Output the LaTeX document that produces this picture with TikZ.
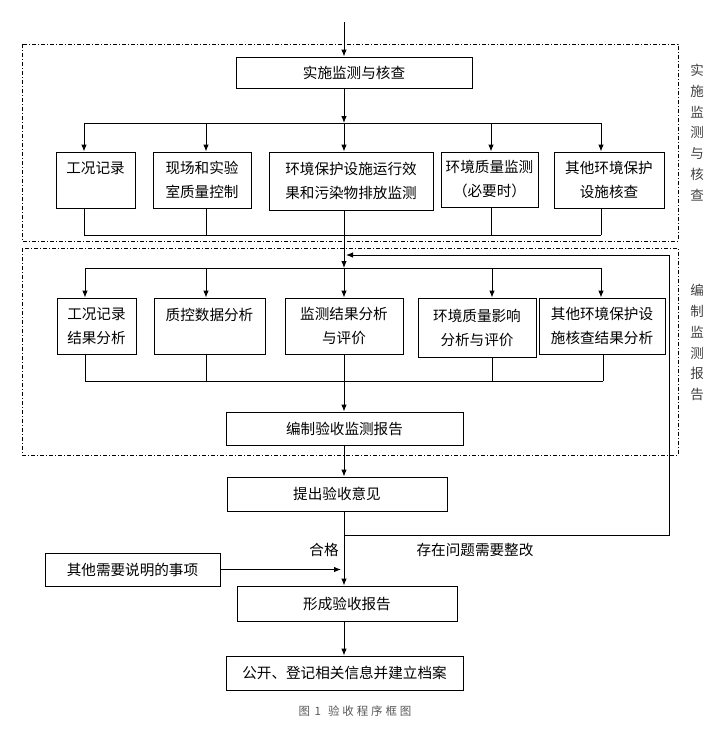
\documentclass[tikz,border=0pt]{standalone}
\usepackage{fontspec}
\newfontfamily\cjk{Noto Sans CJK SC}
\usetikzlibrary{positioning, arrows.meta}
\tikzset{
  box/.style={draw, line width=0.9pt, inner sep=0pt, align=center, font=\cjk\fontsize{14.6}{24}\selectfont},
  frame/.style={line width=0.7pt, dash pattern=on 4pt off 2pt on 1pt off 2pt},
  side/.style={font=\cjk\fontsize{13.5}{20.8}\selectfont, align=center, text=black!75},
  lbl/.style={font=\cjk\fontsize{14.6}{14}\selectfont},
  link/.style={line width=0.9pt},
}

\begin{document}
\begin{tikzpicture}[>={Latex[length=7pt,width=5.5pt]}, x=1pt, y=-1pt]
  \useasboundingbox (0,0) rectangle (720,732);
  \draw [frame] (22,44) rectangle (678,241);
  \draw [frame] (22,248) rectangle (678,455);
  \node [side] (s1) at (697,132.5) {实\\施\\监\\测\\与\\核\\查};
  \node [side] (s2) at (697,342.5) {编\\制\\监\\测\\报\\告};

  \coordinate (top) at (344,22);
  \coordinate (br1) at (344,123);
  \coordinate (cl1) at (344,235);
  \coordinate (br2) at (344,268);
  \coordinate (cl2) at (344,381);
  \coordinate (ok) at (344,535);
  \coordinate (fb) at (669,255);
  \coordinate (fbend) at (346,255);

  \node [box, minimum width=236, minimum height=31] (n0) at (354,72.5) {实施监测与核查};

  \node [box, minimum width=79, minimum height=56] (a1) at (95.5,180) {工况记录\\\phantom{工}};
  \node [box, minimum width=98, minimum height=56] (a2) at (202,180) {现场和实验\\室质量控制};
  \node [box, minimum width=164, minimum height=58] (a3) at (351,181) {环境保护设施运行效\\果和污染物排放监测};
  \node [box, minimum width=97, minimum height=55] (a4) at (489.5,179.5) {环境质量监测\\（必要时）};
  \node [box, minimum width=110, minimum height=56] (a5) at (609,180) {其他环境保护\\设施核查};

  \node [box, minimum width=79, minimum height=56] (c1) at (96.5,326) {工况记录\\结果分析};
  \node [box, minimum width=111, minimum height=56] (c2) at (209.5,326) {质控数据分析\\\phantom{工}};
  \node [box, minimum width=118, minimum height=56] (c3) at (344,326) {监测结果分析\\与评价};
  \node [box, minimum width=118, minimum height=59] (c4) at (477,327.5) {环境质量影响\\分析与评价};
  \node [box, minimum width=126, minimum height=56] (c5) at (602,326) {其他环境保护设\\施核查结果分析};

  \node [box, minimum width=237, minimum height=33] (rep) at (344.5,428.5) {编制验收监测报告};
  \node [box, minimum width=220, minimum height=34] (sub) at (337,494) {提出验收意见};
  \node [box, minimum width=175, minimum height=33] (other) at (132.5,569.5) {其他需要说明的事项};
  \node [box, minimum width=220, minimum height=35] (form) at (347,603.5) {形成验收报告};
  \node [box, minimum width=237, minimum height=34] (pub) at (344.5,673) {公开、登记相关信息并建立档案};

  \node [lbl] (pass) at (324,550) {合格};
  \node [lbl] (fix) at (475,550) {存在问题需要整改};
  \node [font=\cjk\fontsize{11.5}{11.5}\selectfont, text=black!65] (cap) at (355,711)
    {图\hspace{0.4em}1\hspace{0.6em}验\hspace{0.25em}收\hspace{0.25em}程\hspace{0.25em}序\hspace{0.25em}框\hspace{0.25em}图};

  \draw [link, ->] (top) -- (top |- n0.north);
  \draw [link, ->] (br1 |- n0.south) -- (br1);
  \draw [link] (84,123) -- (601,123);
  \foreach \n/\x in {a1/84, a2/206, a3/344, a4/491, a5/601}
    \draw [link, ->] (\x,123) -- (\x,0 |- \n.north);
  \foreach \n/\x in {a1/84, a2/206, a3/344, a4/491, a5/601}
    \draw [link] (\x,0 |- \n.south) -- (\x,235);
  \draw [link] (84,235) -- (601,235);
  \draw [link, ->] (cl1) -- (br2);
  \draw [link, ->] (ok) -| (fb) -- (fbend);

  \draw [link] (85,268) -- (601,268);
  \foreach \n/\x in {c1/85, c2/206, c3/344, c4/492, c5/601}
    \draw [link, ->] (\x,268) -- (\x,0 |- \n.north);
  \foreach \n/\x in {c1/85, c2/206, c3/344, c4/492, c5/603}
    \draw [link] (\x,0 |- \n.south) -- (\x,381);
  \draw [link] (85,381) -- (603,381);
  \draw [link, ->] (cl2) -- (cl2 |- rep.north);
  \draw [link, ->] (344,0 |- rep.south) -- (344,0 |- sub.north);
  \draw [link, ->] (344,0 |- sub.south) -- (344,0 |- form.north);
  \draw [link, ->] (other.east) -- (341,0 |- other.east);
  \draw [link, ->] (344,0 |- form.south) -- (344,0 |- pub.north);
\end{tikzpicture}
\end{document}
